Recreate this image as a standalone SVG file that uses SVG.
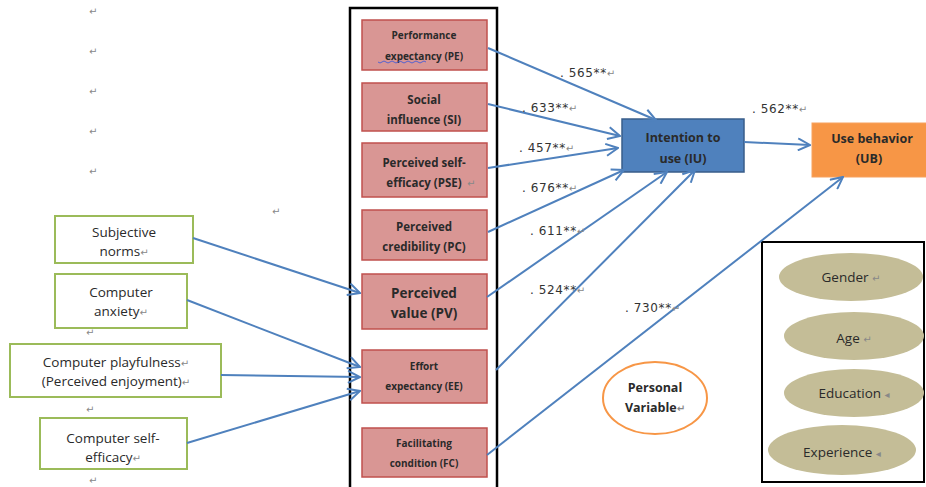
<svg xmlns="http://www.w3.org/2000/svg" width="926" height="487" viewBox="0 0 926 487">
<defs>
<style>
.red{fill:#d99694;stroke:#c0504d;stroke-width:1.5}
.grn{fill:#fff;stroke:#9bbb59;stroke-width:2}
.ell{fill:#c4bd97;stroke:none}
.bt{font-family:"Open Sans","Liberation Sans",sans-serif;font-weight:bold;fill:#2a2a2a;text-anchor:middle}
.gt{font-family:"Open Sans","Liberation Sans",sans-serif;font-size:13.5px;fill:#2a2a2a;text-anchor:middle}
.num{font-family:"DejaVu Sans",sans-serif;font-size:12px;fill:#333;letter-spacing:0.6px}
.ret{font-family:"DejaVu Sans",sans-serif;font-size:10px;fill:#888}
.con{fill:none;stroke:#4f81bd;stroke-width:2}
</style>
<marker id="ah" viewBox="0 0 14 14" refX="13" refY="7" markerWidth="14" markerHeight="14" markerUnits="userSpaceOnUse" orient="auto">
<path d="M1,1 L13,7 L1,13" fill="none" stroke="#4f81bd" stroke-width="2"/>
</marker>
</defs>
<rect width="926" height="487" fill="#fff"/>

<g id="paragraph-marks">
<text class="ret" x="89" y="15">↵</text>
<text class="ret" x="89" y="55">↵</text>
<text class="ret" x="89" y="95">↵</text>
<text class="ret" x="89" y="135">↵</text>
<text class="ret" x="89" y="175">↵</text>
<text class="ret" x="272" y="215">↵</text>
<text class="ret" x="86" y="336">↵</text>
<text class="ret" x="86" y="413">↵</text>
<text class="ret" x="89" y="484">↵</text>
</g>

<g id="container">
<rect x="350" y="8" width="147" height="490" fill="none" stroke="#000" stroke-width="2.5"/>
</g>

<g id="PE">
<rect class="red" x="362" y="20" width="125" height="50"/>
<text class="bt" font-size="10" x="424" y="39">Performance</text>
<text class="bt" font-size="10" x="424" y="60">expectancy (PE)</text>
<path d="M378,62 q2,2 4,0 t4,0 t4,0 t4,0 t4,0 t4,0 t4,0 t4,0 t4,0 t4,0 t4,0 t4,0" fill="none" stroke="#3355dd" stroke-width="0.8"/>
</g>
<g id="SI">
<rect class="red" x="362" y="83" width="125" height="48"/>
<text class="bt" font-size="11.5" x="424" y="104">Social</text>
<text class="bt" font-size="11.5" x="424" y="124">influence (SI)</text>
</g>
<g id="PSE">
<rect class="red" x="362" y="143" width="125" height="54"/>
<text class="bt" font-size="11.5" x="424" y="167">Perceived self-</text>
<text class="bt" font-size="11.5" x="424" y="187">efficacy (PSE)</text>
<text class="ret" x="467" y="187">↵</text>
</g>
<g id="PC">
<rect class="red" x="362" y="210" width="125" height="50"/>
<text class="bt" font-size="11.5" x="424" y="231">Perceived</text>
<text class="bt" font-size="11.5" x="424" y="251">credibility (PC)</text>
</g>
<g id="PV">
<rect class="red" x="362" y="274" width="125" height="55"/>
<text class="bt" font-size="13.5" x="424" y="298">Perceived</text>
<text class="bt" font-size="13.5" x="424" y="318">value (PV)</text>
</g>
<g id="EE">
<rect class="red" x="362" y="350" width="125" height="53"/>
<text class="bt" font-size="10" x="424" y="370">Effort</text>
<text class="bt" font-size="10" x="424" y="390">expectancy (EE)</text>
</g>
<g id="FC">
<rect class="red" x="362" y="428" width="125" height="49"/>
<text class="bt" font-size="10" x="424" y="447">Facilitating</text>
<text class="bt" font-size="10" x="424" y="467">condition (FC)</text>
</g>

<g id="IU">
<rect x="622" y="119" width="122" height="53" fill="#4f81bd" stroke="#385d8a" stroke-width="1.5"/>
<text class="bt" font-size="12.5" x="683" y="142">Intention to</text>
<text class="bt" font-size="12.5" x="683" y="163">use (IU)</text>
</g>
<g id="UB">
<rect x="812" y="123" width="120" height="54" fill="#f79646" stroke="#f7a15e" stroke-width="1"/>
<text class="bt" font-size="12.5" x="872" y="143">Use behavior</text>
<text class="bt" font-size="12.5" x="869" y="163">(UB)</text>
</g>

<g id="SN">
<rect class="grn" x="55" y="216" width="138" height="47"/>
<text class="gt" x="124" y="237">Subjective</text>
<text class="gt" x="124" y="256">norms<tspan class="ret">↵</tspan></text>
</g>
<g id="CA">
<rect class="grn" x="55" y="274" width="132" height="54"/>
<text class="gt" x="121" y="297">Computer</text>
<text class="gt" x="121" y="316">anxiety<tspan class="ret">↵</tspan></text>
</g>
<g id="CP">
<rect class="grn" x="10" y="344" width="211" height="53"/>
<text class="gt" x="116" y="367">Computer playfulness<tspan class="ret">↵</tspan></text>
<text class="gt" x="116" y="386">(Perceived enjoyment)<tspan class="ret">↵</tspan></text>
</g>
<g id="CSE">
<rect class="grn" x="40" y="418" width="147" height="51"/>
<text class="gt" x="113" y="443">Computer self-</text>
<text class="gt" x="113" y="462">efficacy<tspan class="ret">↵</tspan></text>
</g>

<g id="PersonalVariable">
<ellipse cx="655" cy="398" rx="52" ry="36" fill="#fff" stroke="#f79646" stroke-width="2"/>
<text class="bt" font-size="12.5" x="655" y="392">Personal</text>
<text class="bt" font-size="12.5" x="655" y="412">Variable<tspan class="ret">↵</tspan></text>
</g>

<g id="PersonalBox">
<rect x="762" y="242" width="162" height="240" fill="none" stroke="#000" stroke-width="2"/>
</g>
<g id="Gender">
<ellipse class="ell" cx="851" cy="277" rx="72" ry="24"/>
<text class="gt" x="851" y="282">Gender <tspan class="ret">↵</tspan></text>
</g>
<g id="Age">
<ellipse class="ell" cx="854" cy="336" rx="70" ry="24"/>
<text class="gt" x="854" y="343">Age <tspan class="ret">↵</tspan></text>
</g>
<g id="Education">
<ellipse class="ell" cx="854" cy="393" rx="70" ry="24"/>
<text class="gt" x="854" y="398">Education <tspan class="ret">◂</tspan></text>
</g>
<g id="Experience">
<ellipse class="ell" cx="842" cy="450" rx="74" ry="25"/>
<text class="gt" x="842" y="457">Experience <tspan class="ret">◂</tspan></text>
</g>

<g id="connectors">
<path class="con" marker-end="url(#ah)" d="M488,48 L656,120"/>
<path class="con" marker-end="url(#ah)" d="M488,104 L620,136"/>
<path class="con" marker-end="url(#ah)" d="M488,168 L618,148"/>
<path class="con" marker-end="url(#ah)" d="M488,232 L624,170"/>
<path class="con" marker-end="url(#ah)" d="M487,297 L667,172"/>
<path class="con" marker-end="url(#ah)" d="M496,370 L695,170"/>
<path class="con" marker-end="url(#ah)" d="M744,142 L810,145"/>
<path class="con" marker-end="url(#ah)" d="M487,455 L843,177"/>
<path class="con" marker-end="url(#ah)" d="M193,238 L360,293"/>
<path class="con" marker-end="url(#ah)" d="M187,300 L360,367"/>
<path class="con" marker-end="url(#ah)" d="M221,375 L360,377"/>
<path class="con" marker-end="url(#ah)" d="M187,443 L360,391"/>
</g>

<g id="labels">
<text class="num" x="560" y="77">. 565**<tspan class="ret">↵</tspan></text>
<text class="num" x="522" y="112">. 633**<tspan class="ret">↵</tspan></text>
<text class="num" x="519" y="152">. 457**<tspan class="ret">↵</tspan></text>
<text class="num" x="522" y="192">. 676**<tspan class="ret">↵</tspan></text>
<text class="num" x="530" y="235">. 611**<tspan class="ret">↵</tspan></text>
<text class="num" x="530" y="294">. 524**<tspan class="ret">↵</tspan></text>
<text class="num" x="625" y="312">. 730**<tspan class="ret">↵</tspan></text>
<text class="num" x="752" y="113">. 562**<tspan class="ret">↵</tspan></text>
</g>
</svg>
